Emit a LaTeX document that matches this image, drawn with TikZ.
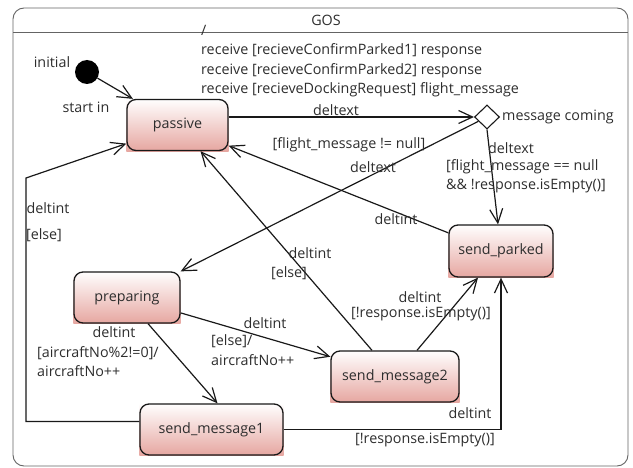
\documentclass[tikz,border=0pt]{standalone}
\usepackage{fontspec}
\setmainfont{Open Sans}
\usetikzlibrary{arrows.meta,backgrounds,shapes.geometric}
\definecolor{framegray}{RGB}{100,100,100}
\definecolor{edgeblack}{RGB}{25,25,25}
\definecolor{statepink}{RGB}{230,166,160}
\definecolor{textgray}{RGB}{45,45,45}

\begin{document}
\begin{tikzpicture}[x=1pt, y=-1pt, font=\fontsize{14.3}{19.5}\selectfont, text=textgray,
    state/.style={draw=edgeblack, line width=1.3pt, rounded corners=9pt, minimum height=51pt, inner sep=2pt},
    trans/.style={edgeblack, line width=1.2pt, -{Straight Barb[length=14pt, width=13pt, line width=1.2pt]}},
    lbl/.style={inner sep=0pt}]
\useasboundingbox (0,0) rectangle (633,468);
\draw[framegray, line width=0.9pt, rounded corners=11pt] (13,8) rectangle (628,466);
\draw[framegray, line width=0.9pt] (13,32) -- (628,32);
\node (gos) at (326,20) {GOS};

% states
\node[circle, fill=black, minimum size=24pt, inner sep=0pt] (initial) at (87,72) {};
\node[state, minimum width=101pt] (passive) at (177.5,125) {passive};
\node[state, minimum width=106pt] (preparing) at (127,297.5) {preparing};
\node[state, minimum width=143pt] (sm1) at (211.5,429.5) {send\_message1};
\node[state, minimum width=128pt] (sm2) at (395,376.5) {send\_message2};
\node[state, minimum width=104pt, minimum height=52pt] (sp) at (501,251) {send\_parked};
\node[diamond, draw=edgeblack, line width=1.1pt, minimum width=25pt, minimum height=24pt, inner sep=0pt, fill=white] (coming) at (487,117) {};
\coordinate (elsecorner) at (26,178);

% pink fill behind the states
\begin{scope}[on background layer]
\foreach \s in {passive, preparing, sm1, sm2, sp}
    \shade[top color=white, bottom color=statepink] (\s.north west) rectangle (\s.south east);
\end{scope}

% transitions
\draw[trans] (initial) -- (passive);
\draw[trans] (passive.east |- coming) -- (coming.west);
\draw[trans] (coming.south) -- ([xshift=-3pt]sp.north);
\draw[trans] (coming) -- (preparing.north east);
\draw[trans] (sp.161) -- (passive.-22);
\draw[trans] ([xshift=-23pt]sm2.north) -- ([xshift=23pt]passive.south);
\draw[trans] ([xshift=22pt]sm2.north) -- ([xshift=-23pt]sp.south);
\draw[trans] (sm1.east) -| (sp.south);
\draw[trans] ([yshift=8pt]sm1.west) -| (elsecorner) -- (passive.200);
\draw[trans] (preparing.-16) -- (sm2.163);
\draw[trans] ([xshift=21pt]preparing.south) -- ([xshift=6pt]sm1.north);

% labels
\node (initlbl) at (52,62) {initial};
\node (startlbl) at (86,107) {start in};
\node[lbl, anchor=west, align=left] (receivelbl) at (201,61) {/\\receive [recieveConfirmParked1] response\\receive [recieveConfirmParked2] response\\receive [recieveDockingRequest] flight\_message};
\node (deltextlbl) at (336,110) {deltext};
\node[lbl, anchor=west] (cominglbl) at (502,117) {message coming};
\node (parkedtextlbl) at (511,148) {deltext};
\node[lbl, anchor=west, align=left] (parkedguard) at (446,176) {[flight\_message == null\\\&\& !response.isEmpty()]};
\node (prepguard) at (349,145) {[flight\_message != null]};
\node (preptextlbl) at (373,167) {deltext};
\node (parkedintlbl) at (396,219) {deltint};
\node (sm2intlbl) at (310,253) {deltint};
\node (sm2elselbl) at (289,273) {[else]};
\node (sm2parklbl) at (420,297) {deltint};
\node (sm2parkguard) at (421,314) {[!response.isEmpty()]};
\node (sm1parklbl) at (470,413) {deltint};
\node (sm1parkguard) at (425,440) {[!response.isEmpty()]};
\node (sm1intlbl) at (48,208) {deltint};
\node (sm1elselbl) at (44,235) {[else]};
\node (prep2lbl) at (265,323) {deltint};
\node[lbl, anchor=west, align=left] (prep2guard) at (211,350) {[else]/\\aircraftNo++};
\node (prep1lbl) at (114,332) {deltint};
\node[lbl, anchor=west, align=left] (prep1guard) at (37,361.5) {[aircraftNo\%2!=0]/\\aircraftNo++};
\end{tikzpicture}
\end{document}
